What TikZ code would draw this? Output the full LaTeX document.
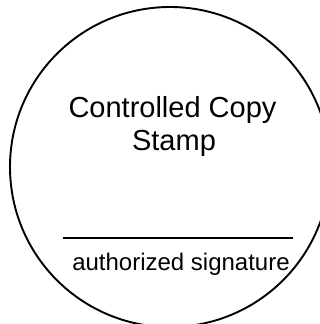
\documentclass[tikz,border=0pt]{standalone}
\usepackage{fontspec}
\setmainfont{Liberation Sans}
\begin{document}
\begin{tikzpicture}[x=1pt,y=-1pt,
  stampring/.style={draw=black,line width=1.9pt},
  bigtext/.style={font=\fontsize{29}{33}\selectfont,anchor=base,inner sep=0pt},
  smalltext/.style={font=\fontsize{24}{28}\selectfont,anchor=base,inner sep=0pt},
  sigline/.style={draw=black,line width=2.2pt}]
\useasboundingbox (0,0) rectangle (320,324);
\clip (0,0) rectangle (320,324);
\fill[white] (0,0) rectangle (320,324);
\node[stampring,circle,minimum size=320pt,inner sep=0pt] (ring) at (170,167) {};
\node[bigtext] (t1) at (172.5,117) {Controlled Copy};
\node[bigtext] (t2) at (174,150) {Stamp};
\coordinate (la) at (63,238);
\coordinate (lb) at (293,238);
\draw[sigline] (la) -- (lb);
\node[smalltext] (sig) at (181,270) {authorized signature};
\end{tikzpicture}
\end{document}
